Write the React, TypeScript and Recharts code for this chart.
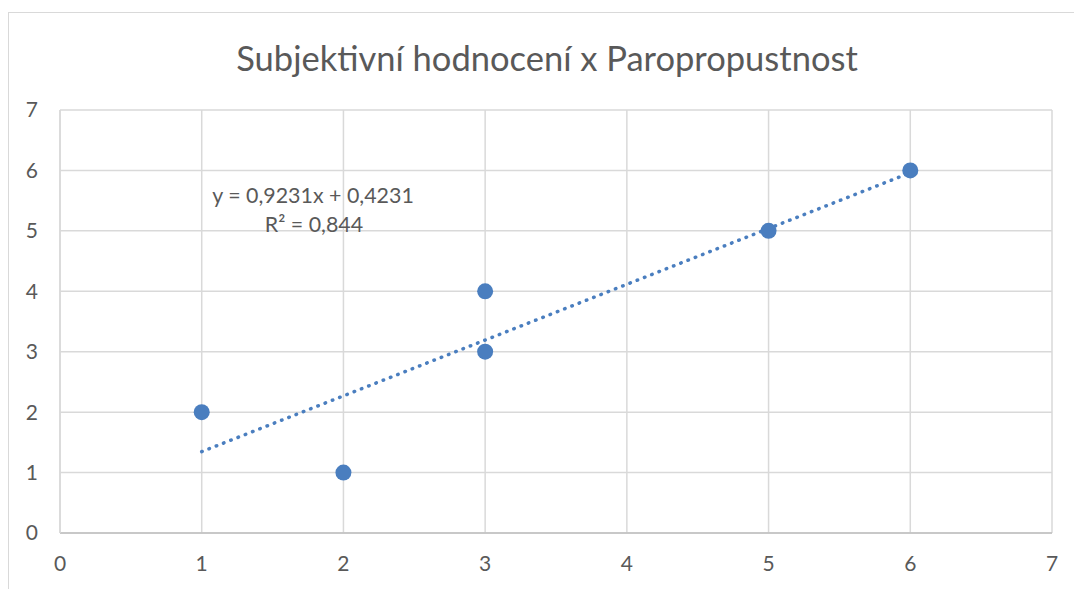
import React from 'react';
import { CartesianGrid, Customized, Scatter, ScatterChart, XAxis, YAxis } from 'recharts';

// measured points (x = paropropustnost, y = subjektivní hodnocení)
const xValues = [1, 2, 3, 3, 5, 6];
const yValues = [2, 1, 4, 3, 5, 6];
// linear trendline endpoints as drawn by Excel (y = 0,9231x + 0,4231)
const trendX = [1, 6];
const trendY = [1.3462, 5.9617];
const axisTicks = [0, 1, 2, 3, 4, 5, 6, 7];

const TITLE = 'Subjektivní hodnocení x Paropropustnost';
const EQUATION = 'y = 0,9231x + 0,4231';
const R2 = 'R² = 0,844';

const points = xValues.map((x, i) => ({ x, y: yValues[i] }));
const trend = trendX.map((x, i) => ({ x, y: trendY[i] }));

const BLUE = '#4A7EBF';
const TEXT = '#595959';
const GRID = '#d9d9d9';
const FONT = 'Lato, "Open Sans", sans-serif';

const Dot = (props: any) => <circle cx={props.cx} cy={props.cy} r={8} fill={BLUE} />;

const Labels = () => (
    <g fontFamily={FONT} fill={TEXT}>
        <text x={547} y={57} fontSize={34.5} textAnchor="middle" dominantBaseline="central">
            {TITLE}
        </text>
        <text x={313} y={195} fontSize={21.4} textAnchor="middle" dominantBaseline="central">
            {EQUATION}
        </text>
        <text x={314} y={224} fontSize={21.4} textAnchor="middle" dominantBaseline="central">
            {R2}
        </text>
    </g>
);

export default function App() {
    return (
        <div style={{ position: 'absolute', left: 0, top: 0, width: 1074, height: 589, background: '#fff', overflow: 'hidden' }}>
            <div style={{ position: 'absolute', left: 8, top: 12, width: 1080, height: 600, border: `1px solid ${GRID}` }} />
            <div style={{ position: 'absolute', left: 0, top: 0 }}>
                <ScatterChart width={1074} height={589} margin={{ top: 110, right: 22, bottom: 16, left: 0 }}>
                    <CartesianGrid stroke={GRID} strokeWidth={1.5} />
                    <XAxis
                        type="number"
                        dataKey="x"
                        domain={[0, 7]}
                        ticks={axisTicks}
                        height={40}
                        tickLine={false}
                        tickMargin={17}
                        axisLine={{ stroke: '#bfbfbf', strokeWidth: 1.5 }}
                        tick={{ fill: TEXT, fontSize: 21, fontFamily: FONT }}
                    />
                    <YAxis
                        type="number"
                        dataKey="y"
                        domain={[0, 7]}
                        ticks={axisTicks}
                        width={60}
                        tickLine={false}
                        tickMargin={16}
                        axisLine={{ stroke: GRID, strokeWidth: 1.5 }}
                        tick={{ fill: TEXT, fontSize: 21, fontFamily: FONT }}
                    />
                    <Scatter
                        data={trend}
                        line={{ stroke: BLUE, strokeWidth: 3.5, strokeDasharray: '0.5 7.3', strokeLinecap: 'round' }}
                        shape={() => null}
                        isAnimationActive={false}
                    />
                    <Scatter data={points} shape={Dot} isAnimationActive={false} />
                    <Customized component={Labels} />
                </ScatterChart>
            </div>
        </div>
    );
}
